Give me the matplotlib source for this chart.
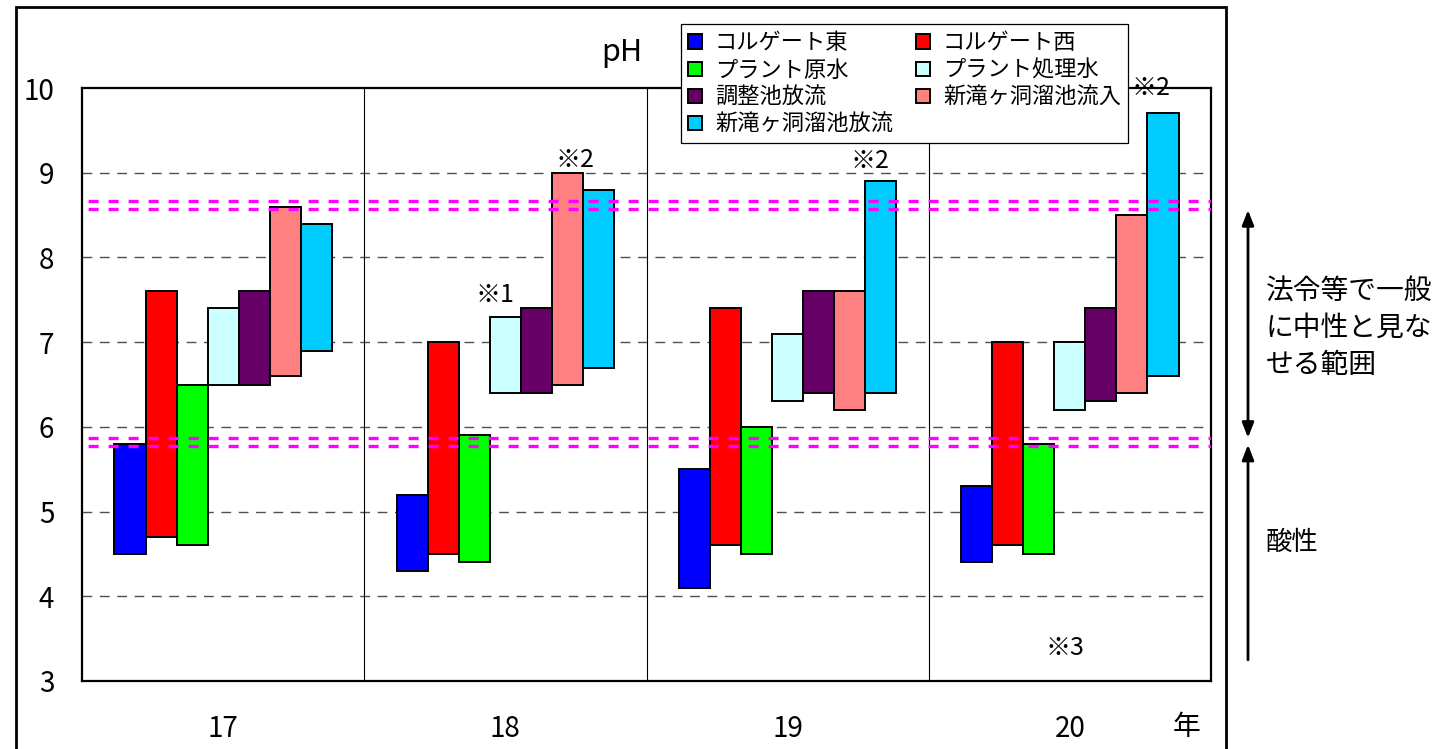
import matplotlib
matplotlib.use("Agg")
import matplotlib.pyplot as plt
from matplotlib.patches import Rectangle, Patch
import numpy as np

plt.rcParams['font.family'] = ['Noto Sans CJK JP', 'DejaVu Sans']
plt.rcParams['lines.scale_dashes'] = False

# ---- data ----
years = ['17', '18', '19', '20']
series_names = ['コルゲート東', 'コルゲート西', 'プラント原水', 'プラント処理水',
                '調整池放流', '新滝ヶ洞溜池流入', '新滝ヶ洞溜池放流']
series_colors = ['#0000FF', '#FF0000', '#00FF00', '#CCFFFF',
                 '#660066', '#FF8080', '#00CCFF']

corr_east_max = [5.8, 5.2, 5.5, 5.3]
corr_east_min = [4.5, 4.3, 4.1, 4.4]
corr_west_max = [7.6, 7.0, 7.4, 7.0]
corr_west_min = [4.7, 4.5, 4.6, 4.6]
plant_raw_max = [6.5, 5.9, 6.0, 5.8]
plant_raw_min = [4.6, 4.4, 4.5, 4.5]
plant_treated_max = [7.4, 7.3, 7.1, 7.0]
plant_treated_min = [6.5, 6.4, 6.3, 6.2]
adjust_pond_max = [7.6, 7.4, 7.6, 7.4]
adjust_pond_min = [6.5, 6.4, 6.4, 6.3]
reservoir_in_max = [8.6, 9.0, 7.6, 8.5]
reservoir_in_min = [6.6, 6.5, 6.2, 6.4]
reservoir_out_max = [8.4, 8.8, 8.9, 9.7]
reservoir_out_min = [6.9, 6.7, 6.4, 6.6]

yticks = [3, 4, 5, 6, 7, 8, 9, 10]
neutral_low = 5.8
neutral_high = 8.6

notes = ['※1', '※2', '※2', '※2', '※3']
note_x = [0.963, 1.247, 2.292, 3.287, 2.983]
note_y = [7.56, 9.15, 9.14, 10.0, 3.39]

series_max = [corr_east_max, corr_west_max, plant_raw_max, plant_treated_max,
              adjust_pond_max, reservoir_in_max, reservoir_out_max]
series_min = [corr_east_min, corr_west_min, plant_raw_min, plant_treated_min,
              adjust_pond_min, reservoir_in_min, reservoir_out_min]

# ---- figure ----
W, H = 1447, 749
fig = plt.figure(figsize=(W / 100, H / 100), dpi=100)
ax = fig.add_axes([82 / W, 1 - 681 / H, (1211 - 82) / W, (681 - 88) / H])

x = np.arange(len(years))
bw = 0.110
handles = []
for i, (name, col, mx, mn) in enumerate(zip(series_names, series_colors, series_max, series_min)):
    mx = np.array(mx); mn = np.array(mn)
    ax.bar(x + (i - 3) * bw, mx - mn, bottom=mn, width=bw, color=col,
           edgecolor='black', linewidth=1.4, zorder=3)
    handles.append(Patch(facecolor=col, edgecolor='black', linewidth=1.4, label=name))

ax.set_xlim(-0.5, 3.5)
ax.set_ylim(3, 10)
ax.set_yticks(yticks)
ax.set_yticklabels([str(v) for v in yticks])
ax.set_xticks(x)
ax.set_xticklabels(years)
ax.tick_params(axis='both', length=0, labelsize=20)
ax.tick_params(axis='y', pad=20)
ax.tick_params(axis='x', pad=24)

for yv in yticks[1:-1]:
    ax.axhline(yv, color='#505050', linewidth=1.0, linestyle=(0, (7.0, 5.5)), zorder=1)
for xv in [0.5, 1.5, 2.5]:
    ax.axvline(xv, color='black', linewidth=0.8, zorder=1)

for base in [neutral_high, neutral_low]:
    for d in [0.063, -0.025]:
        ax.axhline(base + d, color='#FF00FF', linewidth=2.4,
                   linestyle=(10.0, (7.2, 7.2)), zorder=4)

for s in ax.spines.values():
    s.set_linewidth(1.6)
    s.set_color('black')

for t, nx, ny in zip(notes, note_x, note_y):
    ax.text(nx, ny, t, ha='center', va='center', fontsize=18, zorder=6, clip_on=False)

# legend in row-major order
order = [0, 2, 4, 6, 1, 3, 5]
leg = fig.legend([handles[k] for k in order], [series_names[k] for k in order],
                 loc='upper left', bbox_to_anchor=(681 / W, 1 - 24 / H),
                 bbox_transform=fig.transFigure, ncol=2, fontsize=16,
                 frameon=True, fancybox=False, shadow=False, framealpha=1,
                 edgecolor='black', borderaxespad=0, borderpad=0.33,
                 handlelength=0.6, handleheight=0.6, handletextpad=0.6,
                 labelspacing=0.19, columnspacing=1.05)
leg.get_frame().set_linewidth(0.9)
leg.set_zorder(10)

# title
fig.text(622 / W, 1 - 53 / H, 'pH', ha='center', va='center', fontsize=22)
# year unit
fig.text(1187 / W, 1 - 727 / H, '年', ha='center', va='center', fontsize=20)

# right-hand arrows and notes
xa = (1248 - 82) / (1211 - 82)
ax.annotate('', xy=(xa, 8.56), xytext=(xa, 5.87),
            xycoords=('axes fraction', 'data'), textcoords=('axes fraction', 'data'),
            arrowprops=dict(arrowstyle='<|-|>,head_length=0.9,head_width=0.35',
                            color='black', lw=2, shrinkA=0, shrinkB=0),
            annotation_clip=False)
ax.annotate('', xy=(xa, 5.79), xytext=(xa, 3.25),
            xycoords=('axes fraction', 'data'), textcoords=('axes fraction', 'data'),
            arrowprops=dict(arrowstyle='-|>,head_length=0.9,head_width=0.35',
                            color='black', lw=2, shrinkA=0, shrinkB=0),
            annotation_clip=False)
fig.text(1266 / W, 1 - 328 / H, '法令等で一般\nに中性と見な\nせる範囲',
         ha='left', va='center', fontsize=20, linespacing=1.3)
fig.text(1266 / W, 1 - 542 / H, '酸性', ha='left', va='center', fontsize=19)

# outer frame
fig.add_artist(Rectangle((16 / W, -0.05), (1226 - 16) / W, 1.05 - 7 / H,
                         transform=fig.transFigure, fill=False,
                         edgecolor='black', linewidth=2))

fig.savefig('out.png', dpi=100, facecolor='white')
